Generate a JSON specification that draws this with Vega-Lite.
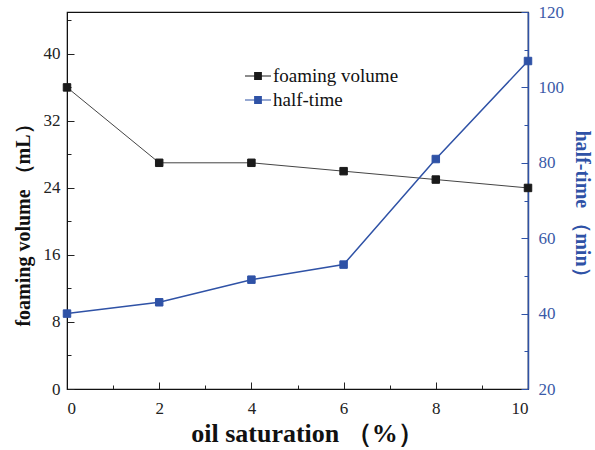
{
  "$schema": "https://vega.github.io/schema/vega-lite/v6.json",
  "width": 461,
  "height": 377,
  "autosize": "none",
  "padding": {"left": 67, "top": 12, "right": 67, "bottom": 61},
  "config": {
    "font": "Liberation Serif",
    "view": {"stroke": "#111", "strokeWidth": 1.2},
    "axis": {"grid": false, "labelFontSize": 17, "labelColor": "#222", "tickColor": "#222", "domainColor": "#111", "titleFontWeight": "bold", "titleColor": "#111"}
  },
  "data": {
    "values": [
      {"saturation": 0, "foaming": 36, "halftime": 40},
      {"saturation": 2, "foaming": 27, "halftime": 43},
      {"saturation": 4, "foaming": 27, "halftime": 49},
      {"saturation": 6, "foaming": 26, "halftime": 53},
      {"saturation": 8, "foaming": 25, "halftime": 81},
      {"saturation": 10, "foaming": 24, "halftime": 107}
    ]
  },
  "encoding": {
    "x": {
      "field": "saturation",
      "type": "quantitative",
      "scale": {"domain": [0, 10], "nice": false},
      "axis": {
        "title": "oil saturation （%）",
        "titleFontSize": 26,
        "titlePadding": 4,
        "titleX": 240,
        "values": [0, 1, 2, 3, 4, 5, 6, 7, 8, 9, 10],
        "labelExpr": "datum.value % 2 === 0 ? datum.label : ''",
        "tickSize": {"condition": {"test": "datum.value % 2 === 0", "value": -7}, "value": -4},
        "labelPadding": 18
      }
    }
  },
  "layer": [
    {
      "encoding": {
        "y": {
          "field": "foaming",
          "type": "quantitative",
          "scale": {"domain": [0, 45], "nice": false},
          "axis": {
            "title": "foaming volume （mL）",
            "titleFontSize": 20,
            "titlePadding": 10,
            "titleY": 208,
            "values": [0, 4, 8, 12, 16, 20, 24, 28, 32, 36, 40, 44],
            "labelExpr": "datum.value % 8 === 0 ? datum.label : ''",
            "tickSize": {"condition": {"test": "datum.value % 8 === 0", "value": -7}, "value": -4},
            "labelPadding": 14
          }
        }
      },
      "layer": [
        {"mark": {"type": "line", "color": "#444", "strokeWidth": 1}},
        {
          "mark": {"type": "point", "shape": "square", "filled": false, "size": 56, "opacity": 1, "strokeWidth": 1},
          "encoding": {
            "color": {
              "datum": "foaming volume",
              "type": "nominal",
              "scale": {"domain": ["foaming volume", "half-time"], "range": ["#1a1a1a", "#2f52a6"]},
              "legend": {
                "title": null,
                "orient": "none",
                "legendX": 177,
                "legendY": 50,
                "padding": 0,
                "labelFontSize": 19,
                "labelColor": "#111",
                "labelOffset": 1,
                "rowPadding": -6,
                "symbolType": "M-1,0H1M-0.3,-0.27H0.3M-0.3,-0.19H0.3M-0.3,-0.115H0.3M-0.3,-0.04H0.3M-0.3,0.04H0.3M-0.3,0.115H0.3M-0.3,0.19H0.3M-0.3,0.27H0.3",
                "symbolSize": 676,
                "symbolStrokeWidth": 1.2,
                "symbolFillColor": "transparent"
              }
            },
            "fill": {
              "datum": "foaming volume",
              "type": "nominal",
              "scale": {"domain": ["foaming volume", "half-time"], "range": ["#1a1a1a", "#2f52a6"]},
              "legend": null
            }
          }
        }
      ]
    },
    {
      "encoding": {
        "y": {
          "field": "halftime",
          "type": "quantitative",
          "scale": {"domain": [20, 120], "nice": false},
          "axis": {
            "orient": "right",
            "title": "half-time （min）",
            "titleFontSize": 20,
            "titleColor": "#2f52a6",
            "titlePadding": 8,
            "titleY": 196,
            "values": [20, 30, 40, 50, 60, 70, 80, 90, 100, 110, 120],
            "labelExpr": "datum.value % 20 === 0 ? datum.label : ''",
            "tickSize": {"condition": {"test": "datum.value % 20 === 0", "value": -7}, "value": -4},
            "labelPadding": 17,
            "labelColor": "#3a5aa8",
            "tickColor": "#2f52a6",
            "domainColor": "#2f52a6",
            "domainWidth": 1.5
          }
        }
      },
      "layer": [
        {"mark": {"type": "line", "color": "#2f52a6", "strokeWidth": 1.5}},
        {
          "mark": {"type": "point", "shape": "square", "filled": false, "size": 56, "opacity": 1, "strokeWidth": 1},
          "encoding": {
            "color": {"datum": "half-time", "type": "nominal"},
            "fill": {"datum": "half-time", "type": "nominal"}
          }
        }
      ]
    }
  ],
  "resolve": {"scale": {"y": "independent"}}
}
